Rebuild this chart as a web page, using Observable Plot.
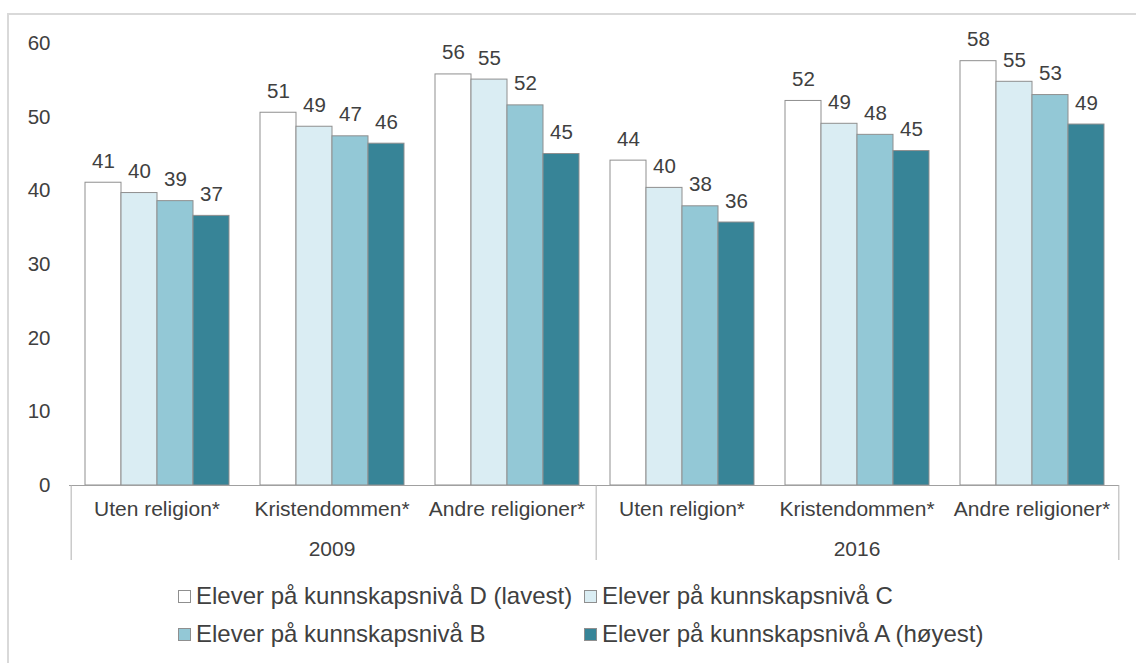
<!DOCTYPE html>
<html><head><meta charset="utf-8">
<script src="https://cdn.jsdelivr.net/npm/d3@7"></script>
<script src="https://cdn.jsdelivr.net/npm/@observablehq/plot@0.6"></script>
<style>
html,body{margin:0;padding:0;overflow:hidden;background:#fff;width:1136px;height:663px;font-family:"Liberation Sans",Arial,sans-serif;}
#frame{position:absolute;left:7px;top:13px;width:1300px;height:800px;border-top:2px solid #d9d9d9;border-left:2px solid #d9d9d9;}
#chart{position:absolute;left:0;top:0;}
#chart g[aria-label="y-axis tick label"]{font-size:20.5px;}
.leg{position:absolute;display:flex;align-items:center;height:30px;font-size:24px;color:#404040;white-space:nowrap;}
.sw{width:11px;height:11px;border:1px solid #8f8f8f;margin-right:5px;flex:none;}
</style></head><body>
<div id="frame"></div>
<div id="chart"></div>
<div id="legend"></div>
<script>
const years = ["2009", "2016"];
const categories = ["Uten religion*", "Kristendommen*", "Andre religioner*"];
const levels = ["D", "C", "B", "A"];
const levelNames = [
  "Elever på kunnskapsnivå D (lavest)",
  "Elever på kunnskapsnivå C",
  "Elever på kunnskapsnivå B",
  "Elever på kunnskapsnivå A (høyest)"
];
const levelColors = ["#ffffff", "#daedf3", "#93c8d6", "#378497"];
// values per level, in order: 2009 (Uten, Kristendommen, Andre), 2016 (Uten, Kristendommen, Andre)
const valuesD = [41.1, 50.6, 55.8, 44.1, 52.2, 57.6];
const valuesC = [39.7, 48.7, 55.1, 40.4, 49.1, 54.8];
const valuesB = [38.6, 47.4, 51.6, 37.9, 47.6, 53.0];
const valuesA = [36.6, 46.4, 45.0, 35.7, 45.4, 49.0];
const yTicks = [0, 10, 20, 30, 40, 50, 60];

const seriesValues = [valuesD, valuesC, valuesB, valuesA];
const groups = [];
for (const yr of years) for (const c of categories) groups.push({key: yr + " " + c, year: yr, category: c});
const data = [];
levels.forEach((lv, li) => {
  groups.forEach((g, gi) => data.push({group: g.key, level: lv, value: seriesValues[li][gi]}));
});
const groupKeys = groups.map(g => g.key);
const yearLabels = years.map(yr => ({group: yr + " " + categories[1], text: yr}));
const sepLeft = [{group: groupKeys[0], level: levels[0]}, {group: groupKeys[3], level: levels[0]}];
const sepRight = [{group: groupKeys[5], level: levels[3]}];

const font = '"Liberation Sans", Arial, sans-serif';
const chart = Plot.plot({
  width: 1136, height: 570,
  marginTop: 43, marginBottom: 85, marginLeft: 67, marginRight: 15,
  style: {fontFamily: font, fontSize: "20.5px", color: "#404040", background: "transparent"},
  fx: {domain: groupKeys, padding: 0, axis: null},
  x: {domain: levels, paddingInner: 0, paddingOuter: 0.374, axis: null},
  y: {domain: [0, 60], axis: null},
  color: {domain: levels, range: levelColors},
  marks: [
    Plot.axisY(yTicks, {tickSize: 0, tickPadding: 19, fontSize: 20.5, fill: "#404040", label: null}),
    Plot.barY(data, {fx: "group", x: "level", y: "value", fill: "level", stroke: "#8f8f8f", strokeWidth: 1}),
    Plot.text(data, {fx: "group", x: "level", y: "value", text: d => d3.format(".0f")(d.value), lineAnchor: "bottom", dy: -15, fontSize: 20.5, fill: "#404040"}),
    Plot.ruleY([0], {stroke: "#a0a0a0"}),
    Plot.ruleX(sepLeft, {fx: "group", x: "level", y1: 0, y2: 0, insetBottom: -75, dx: -32.34, stroke: "#b0b0b0"}),
    Plot.ruleX(sepRight, {fx: "group", x: "level", y1: 0, y2: 0, insetBottom: -75, dx: 32.34, stroke: "#b0b0b0"}),
    Plot.text(groups, {fx: "key", text: "category", frameAnchor: "bottom", lineAnchor: "bottom", dy: 30, fontSize: 21, fill: "#404040"}),
    Plot.text(yearLabels, {fx: "group", text: "text", frameAnchor: "bottom", lineAnchor: "bottom", dy: 70, fontSize: 21, fill: "#404040"})
  ]
});
document.getElementById("chart").appendChild(chart);

const legend = document.getElementById("legend");
const legPos = [[178, 581], [584, 581], [178, 619], [584, 619]];
levelNames.forEach((name, i) => {
  const item = document.createElement("div");
  item.className = "leg";
  item.style.left = legPos[i][0] + "px";
  item.style.top = legPos[i][1] + "px";
  const sw = document.createElement("span");
  sw.className = "sw";
  sw.style.background = levelColors[i];
  const tx = document.createElement("span");
  tx.textContent = name;
  item.appendChild(sw);
  item.appendChild(tx);
  legend.appendChild(item);
});
</script>
</body></html>
